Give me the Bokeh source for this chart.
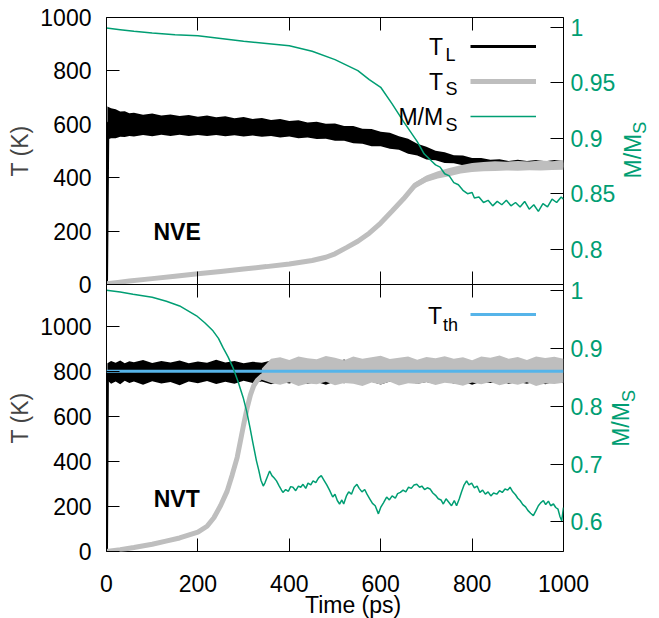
import math
from bokeh.plotting import figure
from bokeh.models import (Range1d, LinearAxis, FixedTicker, CustomJSTickFormatter,
                          Legend, LegendItem, Label)
from bokeh.layouts import column, row
from bokeh.embed import file_html
from bokeh.resources import INLINE

FONT = "Liberation Sans"
GREEN = "#009e73"
BLUE = "#56b4e9"
GRAY = "#bebebe"

# ---------------- data: NVE (top) ----------------
nve_tl_t = [0, 3, 50, 100, 200, 300, 400, 500, 550, 600, 650, 700, 750, 800, 850, 900, 1000]
nve_tl = [0, 605, 598, 597, 594, 590, 583, 570, 558, 545, 522, 492, 472, 461, 457, 455, 455]

band_t = [2, 10, 20, 30, 40, 50, 60, 80, 100, 120, 140, 160, 180, 200, 220, 240, 260, 280,
          300, 320, 340, 360, 380, 400, 420, 440, 460, 480, 500, 520, 540, 560, 580, 600,
          620, 640, 660, 680, 700, 720, 740, 760, 780, 800, 820, 840, 860, 880, 900, 920,
          940, 960, 980, 1000]
nve_tl_hi = [667, 660, 656, 648, 649, 641, 643, 636, 640, 633, 637, 631, 635, 628, 633, 626,
             630, 623, 627, 620, 624, 616, 620, 612, 615, 607, 610, 602, 603, 594, 594, 583,
             582, 572, 568, 555, 546, 527, 516, 501, 495, 484, 483, 474, 474, 467, 469, 463,
             467, 463, 466, 462, 466, 463]
nve_tl_lo = [543, 548, 548, 553, 552, 556, 554, 560, 555, 561, 556, 561, 556, 560, 556, 560,
             555, 559, 554, 558, 553, 556, 551, 554, 548, 551, 545, 546, 538, 538, 529, 527,
             518, 518, 508, 505, 490, 483, 468, 465, 455, 454, 447, 448, 444, 446, 443, 446,
             443, 446, 443, 446, 443, 445]

nve_ts_t = [0, 25, 50, 100, 150, 200, 250, 300, 350, 400, 450, 480, 500, 525, 550, 575, 600,
            625, 650, 675, 700, 725, 750, 775, 800, 825, 850, 900, 950, 1000]
nve_ts = [3, 8, 13, 22, 31, 40, 49, 58, 67, 77, 90, 102, 115, 138, 162, 192, 230, 275, 321,
          372, 396, 410, 420, 431, 437, 441, 442, 445, 446, 448]
nve_tsb_t = [650, 675, 700, 725, 750, 775, 800, 825, 850, 875, 900, 925, 950, 975, 1000]
nve_tsb_hi = [330, 382, 408, 424, 436, 447, 455, 459, 462, 460, 463, 461, 464, 462, 465]
nve_tsb_lo = [312, 360, 384, 397, 405, 416, 421, 424, 425, 427, 426, 428, 427, 429, 430]

nve_m_t = [0, 30, 60, 100, 150, 200, 250, 300, 350, 400, 450, 500, 525, 550, 575, 600, 625,
           650, 665, 680, 695, 710, 720, 730, 740, 750, 760, 770, 780, 790, 800, 805, 815,
           825, 835, 845, 855, 865, 875, 885, 895, 905, 915, 925, 935, 945, 955, 965, 975,
           985, 995, 1000]
nve_m = [0.9995, 0.998, 0.9965, 0.995, 0.9935, 0.9925, 0.990, 0.9875, 0.9855, 0.9835,
         0.9785, 0.971, 0.966, 0.961, 0.953, 0.946, 0.931, 0.915, 0.906, 0.897, 0.886,
         0.880, 0.876, 0.874, 0.868, 0.866, 0.860, 0.858, 0.853, 0.850, 0.851, 0.846,
         0.847, 0.842, 0.844, 0.839, 0.843, 0.840, 0.844, 0.839, 0.842, 0.838, 0.843,
         0.836, 0.840, 0.834, 0.841, 0.838, 0.845, 0.842, 0.847, 0.845]

# ---------------- data: NVT (bottom) ----------------
nvt_tl_t = [0, 2, 4, 100, 300, 500, 700, 900, 1000]
nvt_tl = [0, 780, 795, 795, 795, 795, 795, 795, 795]
nvt_tl_hi = [835, 845, 838, 848, 836, 844, 840, 850, 837, 846, 839, 848, 836, 843, 838, 851,
             839, 846, 836, 842, 838, 848, 836, 844, 839, 850, 837, 845, 840, 852, 838, 846,
             836, 845, 839, 849, 837, 844, 840, 851, 838, 846, 837, 843, 839, 848, 836, 845,
             840, 849, 837, 846, 839, 844]
nvt_tl_lo = [760, 745, 755, 742, 758, 748, 754, 740, 756, 746, 752, 738, 755, 747, 757, 743,
             753, 745, 758, 748, 755, 742, 754, 746, 757, 744, 752, 740, 755, 747, 756, 744,
             753, 741, 755, 747, 757, 745, 752, 743, 756, 746, 754, 740, 755, 748, 757, 744,
             752, 745, 756, 742, 754, 747]

nvt_ts_t = [0, 30, 60, 100, 130, 160, 200, 220, 235, 250, 264, 275, 286, 295, 300, 308, 315,
            322, 330, 340, 350, 370]
nvt_ts = [0, 8, 18, 32, 46, 60, 86, 112, 150, 205, 268, 340, 418, 510, 562, 640, 695, 735,
          760, 778, 790, 800]
nvt_tsb_t = [340, 360, 380, 400, 420, 440, 460, 480, 500, 520, 540, 560, 580, 600, 620, 640,
             660, 680, 700, 720, 740, 760, 780, 800, 820, 840, 860, 880, 900, 920, 940, 960,
             980, 1000]
nvt_tsb_hi = [812, 856, 862, 850, 866, 858, 853, 868, 860, 849, 865, 856, 862, 869, 854, 860,
              866, 851, 863, 858, 867, 855, 862, 849, 865, 860, 870, 856, 863, 850, 866, 859,
              864, 856]
nvt_tsb_lo = [762, 748, 740, 751, 735, 746, 742, 753, 738, 748, 744, 734, 750, 741, 753, 737,
              747, 743, 751, 739, 749, 744, 736, 750, 742, 752, 738, 748, 740, 751, 735, 746,
              743, 749]

nvt_th_t = [0, 1000]
nvt_th = [800, 800]

nvt_m_t = [0, 30, 58, 100, 131, 160, 197, 215, 233, 245, 255, 266, 277, 288, 299, 307, 314,
           320, 328, 333, 338, 343, 347, 352, 357, 362, 367, 372, 378, 383, 386, 392, 398,
           403, 408, 414, 420, 425, 430, 436, 441, 447, 452, 458, 464, 470, 476, 482, 488,
           495, 500, 505, 510, 515, 519, 525, 530, 536, 542, 548, 553, 559, 565, 570, 576,
           582, 588, 595, 600, 606, 613, 619, 625, 632, 637, 643, 649, 655, 661, 667, 673,
           679, 685, 690, 696, 702, 708, 714, 720, 726, 732, 737, 743, 749, 755, 761, 766,
           772, 777, 782, 788, 793, 799, 805, 811, 817, 823, 829, 835, 841, 847, 854, 860,
           866, 872, 878, 883, 889, 895, 900, 905, 911, 917, 922, 928, 934, 940, 945, 950,
           956, 961, 967, 972, 978, 983, 988, 992, 996, 1000]
nvt_m = [1.0, 0.997, 0.993, 0.988, 0.981, 0.973, 0.956, 0.944, 0.930, 0.917, 0.901, 0.885,
         0.866, 0.842, 0.815, 0.790, 0.763, 0.738, 0.706, 0.690, 0.672, 0.662, 0.668, 0.678,
         0.688, 0.680, 0.676, 0.671, 0.662, 0.655, 0.651, 0.656, 0.653, 0.661, 0.660, 0.654,
         0.662, 0.660, 0.665, 0.658, 0.667, 0.664, 0.671, 0.668, 0.676, 0.680, 0.672, 0.664,
         0.655, 0.643, 0.648, 0.637, 0.631, 0.638, 0.631, 0.645, 0.652, 0.648, 0.660, 0.665,
         0.658, 0.652, 0.656, 0.648, 0.640, 0.632, 0.628, 0.614, 0.625, 0.633, 0.643, 0.638,
         0.645, 0.641, 0.649, 0.651, 0.655, 0.652, 0.660, 0.658, 0.664, 0.665, 0.660, 0.662,
         0.656, 0.659, 0.657, 0.650, 0.646, 0.640, 0.638, 0.631, 0.640, 0.634, 0.628, 0.637,
         0.628, 0.640, 0.652, 0.663, 0.671, 0.664, 0.667, 0.659, 0.662, 0.651, 0.655, 0.648,
         0.652, 0.645, 0.650, 0.648, 0.654, 0.651, 0.657, 0.655, 0.660, 0.652, 0.647, 0.641,
         0.637, 0.630, 0.626, 0.620, 0.615, 0.611, 0.620, 0.628, 0.633, 0.637, 0.630, 0.636,
         0.628, 0.631, 0.625, 0.622, 0.610, 0.602, 0.625]

x_ticks = [0, 200, 400, 600, 800, 1000]
t_ticks = [0, 200, 400, 600, 800, 1000]
m_ticks_top = [0.8, 0.85, 0.9, 0.95, 1.0]
m_ticks_bot = [0.6, 0.7, 0.8, 0.9, 1.0]

W = 620          # width of the two panels' canvases
OV = 13          # overlap strip between the two panels (keeps boundary tick labels whole)


def base_fig(height, ymax, mrange, top_border, bottom_border):
    p = figure(width=W, height=height, x_range=Range1d(0, 1000), y_range=Range1d(0, ymax),
               output_backend="svg", toolbar_location=None,
               min_border_left=106, min_border_right=W - 106 - 457,
               min_border_top=top_border, min_border_bottom=bottom_border)
    p.extra_y_ranges = {"m": Range1d(*mrange)}
    p.grid.visible = False
    p.outline_line_color = "black"
    p.outline_line_width = 1
    p.background_fill_alpha = 0
    p.border_fill_alpha = 0
    return p


def overlay_fig(x0, x1, y0, y1):
    """Transparent strip whose data coordinates are page pixels (for text outside frames)."""
    f = figure(width=x1 - x0, height=y1 - y0, x_range=Range1d(x0, x1),
               y_range=Range1d(y1, y0), output_backend="svg", toolbar_location=None,
               x_axis_location=None, y_axis_location=None, min_border=0,
               min_border_left=0, min_border_right=0, min_border_top=0, min_border_bottom=0)
    f.grid.visible = False
    f.outline_line_color = None
    f.background_fill_alpha = 0
    f.border_fill_alpha = 0
    return f


def style_axis(ax, labels=True, color="black", standoff=10):
    ax.axis_line_color = None
    ax.major_tick_in = 13
    ax.major_tick_out = 0
    ax.major_tick_line_color = "black"
    ax.major_tick_line_width = 1
    ax.minor_tick_line_color = None
    ax.major_label_text_font = FONT
    ax.major_label_text_color = color
    if labels:
        ax.major_label_text_font_size = "23px"
        ax.major_label_standoff = standoff
    else:
        ax.formatter = CustomJSTickFormatter(code="return '';")
        ax.major_label_text_font_size = "0px"
        ax.major_label_standoff = 0


def y_label(ax):
    ax.axis_label = "T (K)"
    ax.axis_label_text_font = FONT
    ax.axis_label_text_font_size = "23px"
    ax.axis_label_text_font_style = "normal"
    ax.axis_label_standoff = 4


def txt(p, x, y, s, size="23px", align="left", style="normal", angle=0.0, color="black"):
    p.add_layout(Label(x=x, y=y, text=s, text_font=FONT, text_font_size=size,
                       text_align=align, text_baseline="middle", text_font_style=style,
                       angle=angle, text_color=color))


fmt = "return tick.toString();"

# ---------------- top figure ----------------
p1 = base_fig(17 + 267 + OV, 1000, (0.768, 1.009), 17, OV)
p1.xaxis.ticker = FixedTicker(ticks=x_ticks)
style_axis(p1.xaxis[0], labels=False)
top_ax = LinearAxis(ticker=FixedTicker(ticks=x_ticks))
style_axis(top_ax, labels=False)
p1.add_layout(top_ax, "above")
p1.yaxis.ticker = FixedTicker(ticks=t_ticks)
style_axis(p1.yaxis[0], standoff=15)
y_label(p1.yaxis[0])
r_ax1 = LinearAxis(y_range_name="m", ticker=FixedTicker(ticks=m_ticks_top),
                   formatter=CustomJSTickFormatter(code=fmt))
style_axis(r_ax1, color=GREEN, standoff=7)
p1.add_layout(r_ax1, "right")

p1.varea(x=band_t, y1=nve_tl_lo, y2=nve_tl_hi, fill_color="black")
r_tl = p1.line(nve_tl_t, nve_tl, line_color="black", line_width=3)
r_ts = p1.line(nve_ts_t, nve_ts, line_color=GRAY, line_width=5)
p1.varea(x=nve_tsb_t, y1=nve_tsb_lo, y2=nve_tsb_hi, fill_color=GRAY)
r_m = p1.line(nve_m_t, nve_m, line_color=GREEN, line_width=1.5, y_range_name="m")

leg1 = Legend(items=[LegendItem(label=" ", renderers=[r_tl]),
                     LegendItem(label=" ", renderers=[r_ts]),
                     LegendItem(label=" ", renderers=[r_m])],
              location="top_right", margin=19, padding=0, spacing=15,
              glyph_width=66, glyph_height=20, label_height=20, label_width=8,
              label_standoff=0, label_text_font_size="1px",
              border_line_color=None, background_fill_alpha=0)
p1.add_layout(leg1)

txt(p1, 736.6, 891, "T", align="right")
txt(p1, 742, 860, "L", size="18px")
txt(p1, 736.6, 760, "T", align="right")
txt(p1, 742, 734, "S", size="18px")
txt(p1, 736.6, 627, "M/M", align="right")
txt(p1, 742, 599, "S", size="18px")
txt(p1, 102.7, 198, "NVE", style="bold")

# ---------------- bottom figure ----------------
p2 = base_fig(OV + 267 + 67, 1185, (0.549, 1.01), OV, 67)
p2.margin = (-2 * OV, 0, 0, 0)
p2.xaxis.ticker = FixedTicker(ticks=x_ticks)
style_axis(p2.xaxis[0], standoff=23)
top_ax2 = LinearAxis(ticker=FixedTicker(ticks=x_ticks))
style_axis(top_ax2, labels=False)
p2.add_layout(top_ax2, "above")
p2.yaxis.ticker = FixedTicker(ticks=t_ticks)
style_axis(p2.yaxis[0], standoff=15)
y_label(p2.yaxis[0])
r_ax2 = LinearAxis(y_range_name="m", ticker=FixedTicker(ticks=m_ticks_bot),
                   formatter=CustomJSTickFormatter(code=fmt))
style_axis(r_ax2, color=GREEN, standoff=7)
p2.add_layout(r_ax2, "right")

p2.varea(x=band_t, y1=nvt_tl_lo, y2=nvt_tl_hi, fill_color="black")
p2.line(nvt_tl_t, nvt_tl, line_color="black", line_width=3)
p2.line(nvt_ts_t, nvt_ts, line_color=GRAY, line_width=5)
p2.varea(x=nvt_tsb_t, y1=nvt_tsb_lo, y2=nvt_tsb_hi, fill_color=GRAY)
r_th = p2.line(nvt_th_t, nvt_th, line_color=BLUE, line_width=3)
p2.line(nvt_m_t, nvt_m, line_color=GREEN, line_width=1.5, y_range_name="m")

leg2 = Legend(items=[LegendItem(label=" ", renderers=[r_th])],
              location="top_right", margin=20, padding=0, spacing=15,
              glyph_width=66, glyph_height=20, label_height=20, label_width=7,
              label_standoff=0, label_text_font_size="1px",
              border_line_color=None, background_fill_alpha=0)
p2.add_layout(leg2)

txt(p2, 734.4, 1043, "T", align="right")
txt(p2, 736.2, 1007, "th", size="18px")
txt(p2, 103.4, 235, "NVT", style="bold")

# ---------------- x-axis title (transparent strip over the bottom border) ----
XH = 32
r = overlay_fig(0, W, 618 - XH, 618)
r.margin = (-XH, 0, 0, 0)
txt(r, 334.5, 604, "Time (ps)", align="center")

# ---------------- right-hand axis titles (transparent strip) ----
QL = 570
q = overlay_fig(QL, 657, 0, 618)
q.margin = (0, 0, 0, QL - W)
txt(q, 632.5, 178, "M/M", angle=math.pi / 2, color=GREEN)
txt(q, 639, 133.3, "S", size="18px", angle=math.pi / 2, color=GREEN)
txt(q, 620.5, 446.3, "M/M", angle=math.pi / 2, color=GREEN)
txt(q, 628.5, 401.6, "S", size="18px", angle=math.pi / 2, color=GREEN)

layout = row(column(p1, p2, r, spacing=0), q, spacing=0)
open("out.html", "w").write(file_html(layout, INLINE))
